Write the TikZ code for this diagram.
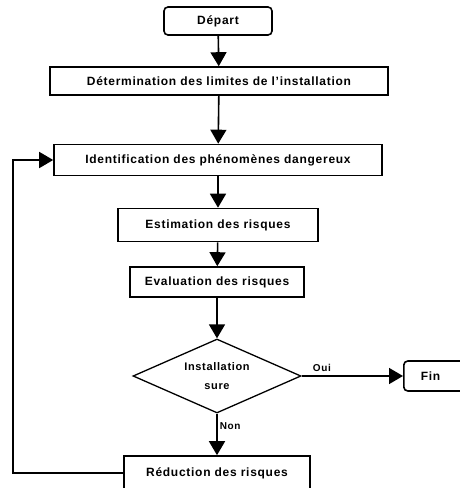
\documentclass[tikz,border=0pt]{standalone}
\usepackage{fontspec}
\setmainfont{Liberation Sans}[LetterSpace=6]
\usetikzlibrary{arrows.meta,shapes.geometric}
\tikzset{
  box/.style={draw=black, line width=1.6pt, fill=white, font=\bfseries\fontsize{12}{14}\selectfont, inner sep=0pt},
  rbox/.style={box, rounded corners=4pt},
  decision/.style={draw=black, line width=1.3pt, diamond, aspect=2.27, inner sep=0pt, font=\bfseries\fontsize{11}{19}\selectfont, align=center},
  conn/.style={line width=1.6pt, -{Triangle[width=16pt,length=14pt]}},
  lbl/.style={font=\bfseries\fontsize{10}{12}\selectfont, inner sep=0pt}
}
\begin{document}
\begin{tikzpicture}[x=1pt,y=-1pt]
\useasboundingbox (0,0) rectangle (459,488);
\node[rbox, minimum width=108pt, minimum height=28pt] (depart) at (218,21) {Départ};
\node[box, minimum width=338pt, minimum height=28pt] (determ) at (219,81) {Détermination des limites de l'installation};
\node[box, minimum width=328pt, minimum height=31pt] (ident) at (218,160) {Identification des phénomènes dangereux};
\node[box, minimum width=200pt, minimum height=33pt] (estim) at (218,225) {Estimation des risques};
\node[box, minimum width=174pt, minimum height=30pt] (eval) at (217,282) {Evaluation des risques};
\node[decision, minimum width=168pt, minimum height=74pt] (dec) at (217,376) {Installation\\sure};
\node[rbox, anchor=west, minimum height=30pt, text width=60pt, align=left, inner xsep=17pt] (fin) at (403,376) {Fin};
\node[box, minimum width=186pt, minimum height=34pt] (reduc) at (217,473) {Réduction des risques};
\coordinate (c1) at (13,473);
\coordinate (c2) at (13,160);
\draw[conn] (depart) -- (determ);
\draw[conn] (determ) -- (ident);
\draw[conn] (ident) -- (estim);
\draw[conn] (estim) -- (eval);
\draw[conn] (eval) -- (dec);
\draw[conn] (dec.east) -- node[lbl, above=4pt, pos=0.2] {Oui} (fin.west);
\draw[conn] (dec.south) -- node[lbl, right=2pt, pos=0.3] {Non} (reduc.north);
\draw[conn] (reduc.west) -- (c1) -- (c2) -- (ident.west);
\end{tikzpicture}
\end{document}
